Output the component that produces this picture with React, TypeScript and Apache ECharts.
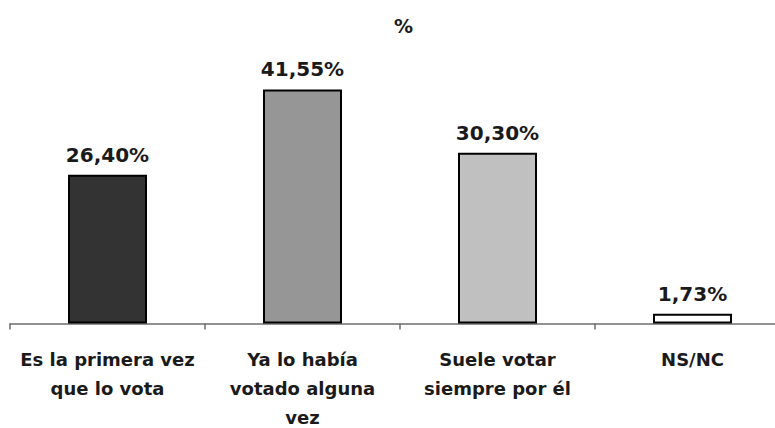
import React, { useEffect, useRef } from "react";
import * as echarts from "echarts";

const categories: string[] = [
  "Es la primera vez\nque lo vota",
  "Ya lo había\nvotado alguna\nvez",
  "Suele votar\nsiempre por él",
  "NS/NC",
];
const values: number[] = [26.4, 41.55, 30.3, 1.73];
const barColors: string[] = ["#333333", "#969696", "#c0c0c0", "#ffffff"];
const titleText = "%";

const fmt = (v: number) => v.toFixed(2).replace(".", ",") + "%";

export default function App() {
  const ref = useRef<HTMLDivElement>(null);
  useEffect(() => {
    if (!ref.current) return;
    const chart = echarts.init(ref.current, null, { renderer: "svg" });
    chart.setOption({
      animation: false,
      backgroundColor: "#ffffff",
      title: {
        text: titleText,
        left: 389,
        top: 11,
        textStyle: {
          fontFamily: "DejaVu Sans",
          fontSize: 19,
          fontWeight: "bold",
          color: "#1a1a1a",
        },
      },
      grid: {
        left: 10,
        right: -15,
        top: 70,
        bottom: 104.5,
        containLabel: false,
        outerBoundsMode: "none",
      },
      xAxis: {
        type: "category",
        data: categories,
        axisLine: { show: true, lineStyle: { color: "#6e6e6e", width: 1.5 } },
        axisTick: { show: true, length: 6, lineStyle: { color: "#6e6e6e", width: 1.5 } },
        axisLabel: {
          interval: 0,
          margin: 21,
          fontFamily: "DejaVu Sans",
          fontSize: 18,
          fontWeight: "bold",
          lineHeight: 29,
          color: "#1a1a1a",
        },
      },
      yAxis: {
        type: "value",
        min: 0,
        max: 45,
        show: false,
        splitLine: { show: false },
      },
      series: [
        {
          type: "bar",
          barWidth: 79,
          data: values.map((v, i) => ({
            value: v,
            itemStyle: { color: barColors[i] },
          })),
          itemStyle: { borderColor: "#000000", borderWidth: 2 },
          label: {
            show: true,
            position: "top",
            distance: 10,
            formatter: (p: any) => fmt(p.value),
            fontFamily: "DejaVu Sans",
            fontSize: 20,
            fontWeight: "bold",
            color: "#1a1a1a",
          },
        },
      ],
    });
    return () => chart.dispose();
  }, []);
  return <div ref={ref} style={{ width: 775, height: 428, position: "absolute", left: 0, top: 0 }} />;
}
